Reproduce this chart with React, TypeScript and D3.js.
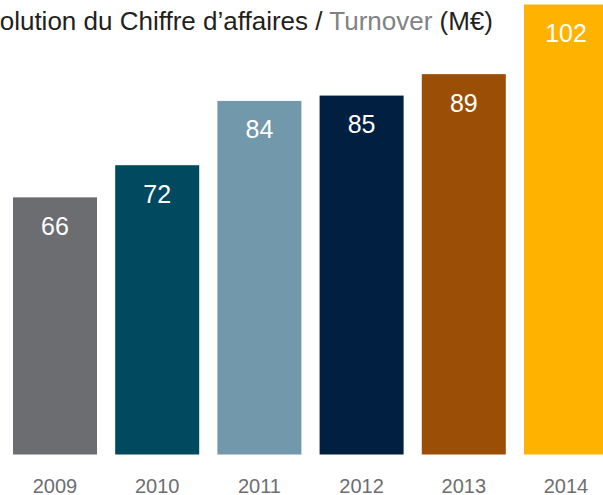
import React from "react";
import * as d3 from "d3";

const years = ["2009", "2010", "2011", "2012", "2013", "2014"];
const turnover = [66, 72, 84, 85, 89, 102];
const barColors = ["#6c6d71", "#00495e", "#7298ab", "#001f41", "#9b4f06", "#ffb300"];
const titleMain = "Évolution du Chiffre d’affaires / ";
const titleEn = "Turnover";
const titleUnit = " (M€)";

const W = 603;
const H = 495;
const FONT = "'Liberation Sans', Arial, Helvetica, sans-serif";

export default function App() {
  const x = d3.scaleBand<string>().domain(years).range([13, 608]).paddingInner(0.178).paddingOuter(0);
  const y = d3.scaleLinear().domain([18, 102]).range([454.5, 4.5]);

  return (
    <svg width={W} height={H} style={{ position: "absolute", left: 0, top: 0, display: "block" }} fontFamily={FONT}>
      <text x={493} y={29.5} textAnchor="end" fontSize={26} fill="#231f20">
        <tspan>{titleMain}</tspan>
        <tspan fill="#808285">{titleEn}</tspan>
        <tspan>{titleUnit}</tspan>
      </text>
      {years.map((yr, i) => {
        const x0 = x(yr) as number;
        const top = y(turnover[i]);
        return (
          <g key={yr}>
            <rect x={x0} y={top} width={x.bandwidth()} height={y.range()[0] - top} fill={barColors[i]} />
            <text x={x0 + x.bandwidth() / 2} y={top + 37.5} textAnchor="middle" fontSize={25} fill="#ffffff">
              {turnover[i]}
            </text>
            <text x={x0 + x.bandwidth() / 2} y={493} textAnchor="middle" fontSize={20} fill="#6d6e71">
              {yr}
            </text>
          </g>
        );
      })}
    </svg>
  );
}
